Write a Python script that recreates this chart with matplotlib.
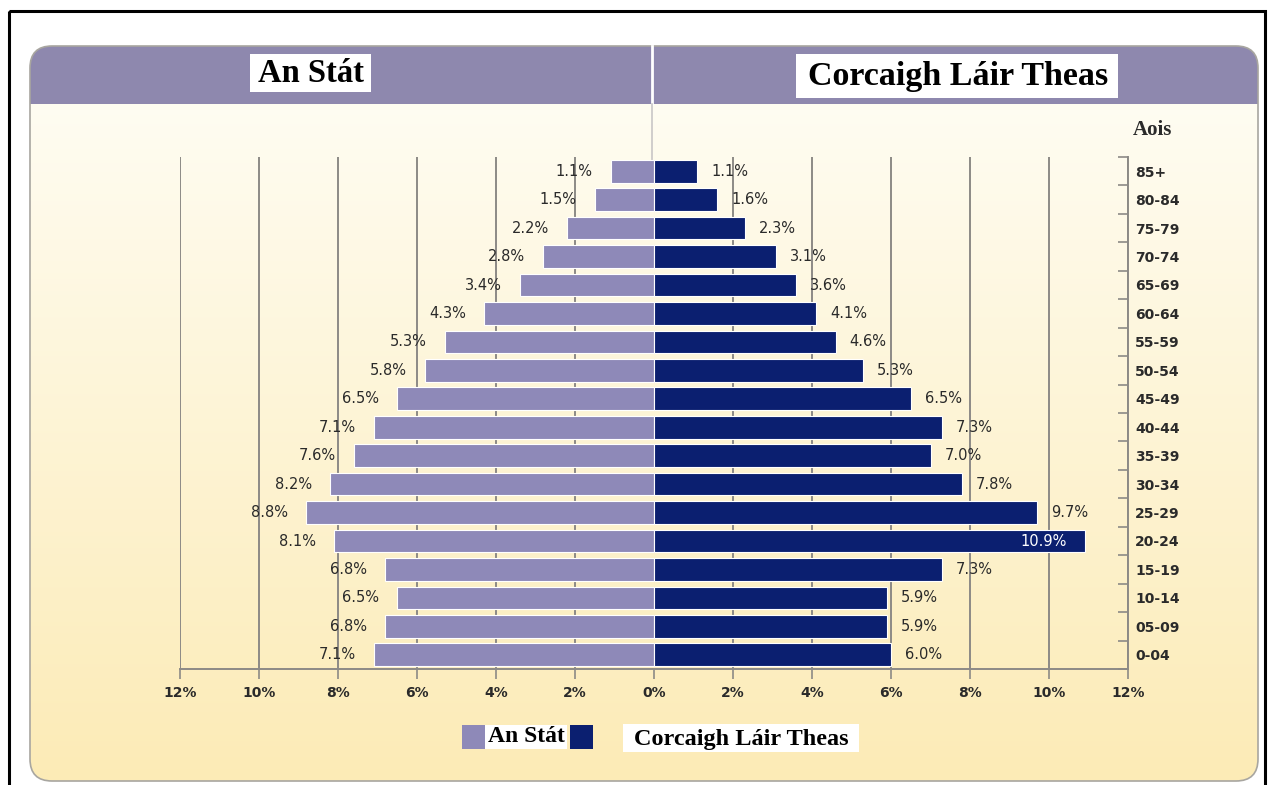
import numpy as np
import matplotlib
matplotlib.use("Agg")
import matplotlib.pyplot as plt
from matplotlib.patches import FancyBboxPatch, Rectangle

# age groups, bottom to top
ages = ["0-04", "05-09", "10-14", "15-19", "20-24", "25-29", "30-34", "35-39", "40-44",
        "45-49", "50-54", "55-59", "60-64", "65-69", "70-74", "75-79", "80-84", "85+"]
an_stat = [7.1, 6.8, 6.5, 6.8, 8.1, 8.8, 8.2, 7.6, 7.1, 6.5, 5.8, 5.3, 4.3, 3.4, 2.8, 2.2, 1.5, 1.1]
corcaigh = [6.0, 5.9, 5.9, 7.3, 10.9, 9.7, 7.8, 7.0, 7.3, 6.5, 5.3, 4.6, 4.1, 3.6, 3.1, 2.3, 1.6, 1.1]
x_ticks = [-12, -10, -8, -6, -4, -2, 0, 2, 4, 6, 8, 10, 12]

PURPLE = "#8e89b8"
NAVY = "#0b1f70"
HEADER = "#8e88ae"
GRID = "#8c8a86"
TXT = "#2a2a2a"
SERIF = "Liberation Serif"

W, H = 1273, 785
fig = plt.figure(figsize=(W / 100, H / 100), dpi=100)
fig.patch.set_facecolor("white")

# background in pixel coords
bg = fig.add_axes([0, 0, 1, 1], zorder=0)
bg.set_xlim(0, W)
bg.set_ylim(H, 0)
bg.axis("off")

bg.add_patch(Rectangle((9, 11), 1256, 790, fill=False, edgecolor="black", lw=2.2))

panel = FancyBboxPatch((30, 46), 1228, 735, boxstyle="round,pad=0,rounding_size=22",
                       facecolor="none", edgecolor="#a8a6a0", lw=1.2, zorder=3)
bg.add_patch(panel)
top_c = np.array([255, 254, 247]) / 255
bot_c = np.array([252, 235, 182]) / 255
t = np.linspace(0, 1, 256)[:, None]
grad = (top_c * (1 - t) + bot_c * t)[:, None, :]
im = bg.imshow(grad, extent=[30, 1258, 781, 46], aspect="auto", zorder=1)
im.set_clip_path(panel)
hdr = Rectangle((30, 46), 1228, 58, facecolor=HEADER, edgecolor="none", zorder=2)
bg.add_patch(hdr)
hdr.set_clip_path(panel)
bg.plot([652, 652], [46, 104], color="white", lw=2, zorder=4)
bg.plot([652, 652], [104, 165], color="#c8c6c6", lw=1.2, zorder=4)

bg.add_patch(Rectangle((250, 54), 121, 38, facecolor="white", edgecolor="none", zorder=4))
bg.text(311, 74, "An Stát", family=SERIF, weight="bold", fontsize=23.5, color="black",
        ha="center", va="center", zorder=5)
bg.add_patch(Rectangle((796, 54), 322, 44, facecolor="white", edgecolor="none", zorder=4))
bg.text(958, 77, "Corcaigh Láir Theas", family=SERIF, weight="bold", fontsize=24.5,
        color="black", ha="center", va="center", zorder=5)
bg.text(1133, 130, "Aois", family=SERIF, weight="bold", fontsize=15, color=TXT,
        ha="left", va="center", zorder=5)

# legend
bg.add_patch(Rectangle((462, 725), 23, 24, facecolor=PURPLE, edgecolor="none", zorder=4))
bg.add_patch(Rectangle((485, 725), 82, 24, facecolor="white", edgecolor="none", zorder=4))
bg.text(526, 737, "An Stát", family=SERIF, weight="bold", fontsize=17, color="black",
        ha="center", va="center", zorder=5)
bg.add_patch(Rectangle((570, 725), 23, 24, facecolor=NAVY, edgecolor="none", zorder=4))
bg.add_patch(Rectangle((623, 724), 236, 28, facecolor="white", edgecolor="none", zorder=4))
bg.text(741, 739, "Corcaigh Láir Theas", family=SERIF, weight="bold", fontsize=17.5,
        color="black", ha="center", va="center", zorder=5)

# main chart
ax = fig.add_axes([180 / W, 1 - 669 / H, (1128 - 180) / W, (669 - 157) / H], zorder=2)
ax.set_facecolor("none")
y = np.arange(len(ages))
left_vals = -np.array(an_stat)
ax.barh(y, left_vals, height=0.8, color=PURPLE, edgecolor="white", lw=0.8, zorder=3)
ax.barh(y, corcaigh, height=0.8, color=NAVY, edgecolor="white", lw=0.8, zorder=3)

for xv in x_ticks:
    if xv != 0:
        ax.axvline(xv, color=GRID, lw=1.4, zorder=1)

for yi, v in zip(y, an_stat):
    ax.annotate(f"{v:.1f}%", (-v, yi), xytext=(-13, 0), textcoords="offset points",
                ha="right", va="center", fontsize=10.5, color=TXT, zorder=5)
for yi, v in zip(y, corcaigh):
    if v > 10:
        ax.annotate(f"{v:.1f}%", (v, yi), xytext=(-13, 0), textcoords="offset points",
                    ha="right", va="center", fontsize=10.5, color="white", zorder=5)
    else:
        ax.annotate(f"{v:.1f}%", (v, yi), xytext=(10, 0), textcoords="offset points",
                    ha="left", va="center", fontsize=10.5, color=TXT, zorder=5)

ax.set_xlim(-12, 12)
ax.set_ylim(-0.5, len(ages) - 0.5)
ax.set_xticks(x_ticks)
ax.set_xticklabels([f"{abs(v)}%" for v in x_ticks], fontsize=10, weight="bold", color=TXT)
ax.tick_params(axis="x", direction="out", length=7, width=1.2, color=GRID, pad=5)

ax.yaxis.tick_right()
ax.set_yticks(y)
ax.set_yticklabels(ages, fontsize=10, weight="bold", color=TXT)
ax.set_yticks(np.arange(len(ages) + 1) - 0.5, minor=True)
ax.tick_params(axis="y", which="major", length=0, pad=5)
ax.tick_params(axis="y", which="minor", direction="in", length=7, width=1.2, color=GRID)

for s in ["top", "left"]:
    ax.spines[s].set_visible(False)
for s in ["bottom", "right"]:
    ax.spines[s].set_color(GRID)
    ax.spines[s].set_linewidth(1.4)

fig.savefig("out.png", dpi=100)
